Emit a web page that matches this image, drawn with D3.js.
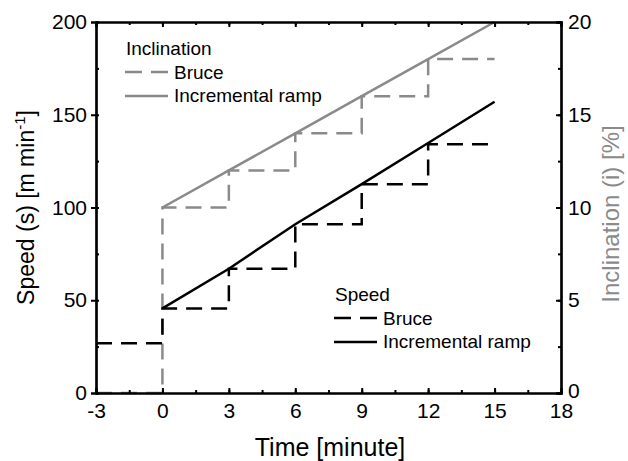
<!DOCTYPE html>
<html lang="en">
<head>
<meta charset="utf-8">
<title>Speed and inclination</title>
<script src="https://d3js.org/d3.v7.min.js"></script>
<style>
  body { margin: 0; background: #fff; }
  text { font-family: "Liberation Sans", Arial, sans-serif; fill: #000; }
</style>
</head>
<body>
<svg id="chart" width="628" height="461"></svg>
<script>
// data (time in minutes)
var stageTimes = [-3, 0, 3, 6, 9, 12, 15];
var speedBruce = [26.8, 45.6, 67, 91, 112.6, 134.1, 134.1];
var inclBruce = [0, 10, 12, 14, 16, 18, 18];
var rampTimes = [0, 3, 6, 9, 12, 15];
var speedRamp = [45.6, 67, 91, 112.6, 134.8, 157];
var inclRamp = [10, 12, 14, 16, 18, 20];
var xTicks = [-3, 0, 3, 6, 9, 12, 15, 18];
var speedTicks = [0, 50, 100, 150, 200];
var inclTicks = [0, 5, 10, 15, 20];

var svg = d3.select("#chart");
var mLeft = 96, mRight = 561, mTop = 22, mBottom = 393;
var grey = "#8a8a8a";

var x = d3.scaleLinear().domain([-3, 18]).range([mLeft, mRight]);
var yS = d3.scaleLinear().domain([0, 200]).range([mBottom, mTop]);
var yI = d3.scaleLinear().domain([0, 20]).range([mBottom, mTop]);

var dash = "16,9";

function pts(xs, ys) { return xs.map(function(d, i) { return [d, ys[i]]; }); }

var stepS = d3.line().x(function(d) { return x(d[0]); }).y(function(d) { return yS(d[1]); }).curve(d3.curveStepAfter);
var stepI = d3.line().x(function(d) { return x(d[0]); }).y(function(d) { return yI(d[1]); }).curve(d3.curveStepAfter);
var lineS = d3.line().x(function(d) { return x(d[0]); }).y(function(d) { return yS(d[1]); });
var lineI = d3.line().x(function(d) { return x(d[0]); }).y(function(d) { return yI(d[1]); });

// series
svg.append("path").attr("d", stepI(pts(stageTimes, inclBruce)))
  .attr("fill", "none").attr("stroke", grey).attr("stroke-width", 2.5).attr("stroke-dasharray", dash);
svg.append("path").attr("d", lineI(pts(rampTimes, inclRamp)))
  .attr("fill", "none").attr("stroke", grey).attr("stroke-width", 2.5);
svg.append("path").attr("d", stepS(pts(stageTimes, speedBruce)))
  .attr("fill", "none").attr("stroke", "#000").attr("stroke-width", 2.5).attr("stroke-dasharray", dash);
svg.append("path").attr("d", lineS(pts(rampTimes, speedRamp)))
  .attr("fill", "none").attr("stroke", "#000").attr("stroke-width", 2.5);

// axes (ticks inward)
var xMinor = d3.range(-3, 18.01, 1.5);
svg.append("g").attr("transform", "translate(0," + mBottom + ")")
  .call(d3.axisBottom(x).tickValues(xMinor).tickSize(-3).tickFormat(""));
svg.append("g").attr("transform", "translate(0," + mBottom + ")")
  .call(d3.axisBottom(x).tickValues(xTicks).tickSize(-5).tickPadding(10).tickFormat(String));
svg.append("g").attr("transform", "translate(0," + mTop + ")")
  .call(d3.axisTop(x).tickValues(xMinor).tickSize(-3).tickFormat(""));
svg.append("g").attr("transform", "translate(0," + mTop + ")")
  .call(d3.axisTop(x).tickValues(xTicks).tickSize(-5).tickFormat(""));

var sMinor = d3.range(0, 200.1, 25);
svg.append("g").attr("transform", "translate(" + mLeft + ",0)")
  .call(d3.axisLeft(yS).tickValues(sMinor).tickSize(-3).tickFormat(""));
svg.append("g").attr("transform", "translate(" + mLeft + ",0)")
  .call(d3.axisLeft(yS).tickValues(speedTicks).tickSize(5).tickPadding(4).tickFormat(String));

var iMinor = d3.range(0, 20.1, 2.5);
svg.append("g").attr("transform", "translate(" + mRight + ",0)")
  .call(d3.axisRight(yI).tickValues(iMinor).tickSize(-3).tickFormat(""));
var rightAxis = svg.append("g").attr("transform", "translate(" + mRight + ",0)")
  .call(d3.axisRight(yI).tickValues(inclTicks).tickSize(-5).tickPadding(7).tickFormat(String));
// lift the right-hand 0 a little so it clears the 18 below it
rightAxis.selectAll(".tick text").filter(function(d) { return d === 0; }).attr("dy", "0.2em");

svg.selectAll(".domain").attr("stroke", "#000").attr("stroke-width", 2.2);
svg.selectAll(".tick line").attr("stroke", "#000").attr("stroke-width", 2);
svg.selectAll(".tick text").style("font-size", "21px").attr("fill", "#000");

// axis titles
svg.append("text").attr("x", 330).attr("y", 456).attr("text-anchor", "middle")
  .style("font-size", "25px").text("Time [minute]");

var yt = svg.append("text").attr("transform", "translate(34," + ((mTop + mBottom) / 2) + ") rotate(-90)")
  .attr("text-anchor", "middle").style("font-size", "23px");
yt.append("tspan").text("Speed (s) [m min");
yt.append("tspan").attr("dy", -9).style("font-size", "15px").text("-1");
yt.append("tspan").attr("dy", 9).text("]");

svg.append("text").attr("transform", "translate(619,214) rotate(-90)")
  .attr("text-anchor", "middle").style("font-size", "24px").style("fill", grey)
  .text("Inclination (i) [%]");

// legends
function legend(x0, y0, title, col) {
  var g = svg.append("g").attr("transform", "translate(" + x0 + "," + y0 + ")");
  g.append("text").attr("x", 1).attr("y", 0).style("font-size", "19px").text(title);
  g.append("line").attr("x1", 0).attr("x2", 43).attr("y1", 17).attr("y2", 17)
    .attr("stroke", col).attr("stroke-width", 2.5).attr("stroke-dasharray", "17,9");
  g.append("text").attr("x", 49).attr("y", 24).style("font-size", "19px").text("Bruce");
  g.append("line").attr("x1", 0).attr("x2", 43).attr("y1", 41).attr("y2", 41)
    .attr("stroke", col).attr("stroke-width", 2.5);
  g.append("text").attr("x", 49).attr("y", 47).style("font-size", "19px").text("Incremental ramp");
}
legend(125, 55, "Inclination", grey);
legend(334, 301, "Speed", "#000");
</script>
</body>
</html>
